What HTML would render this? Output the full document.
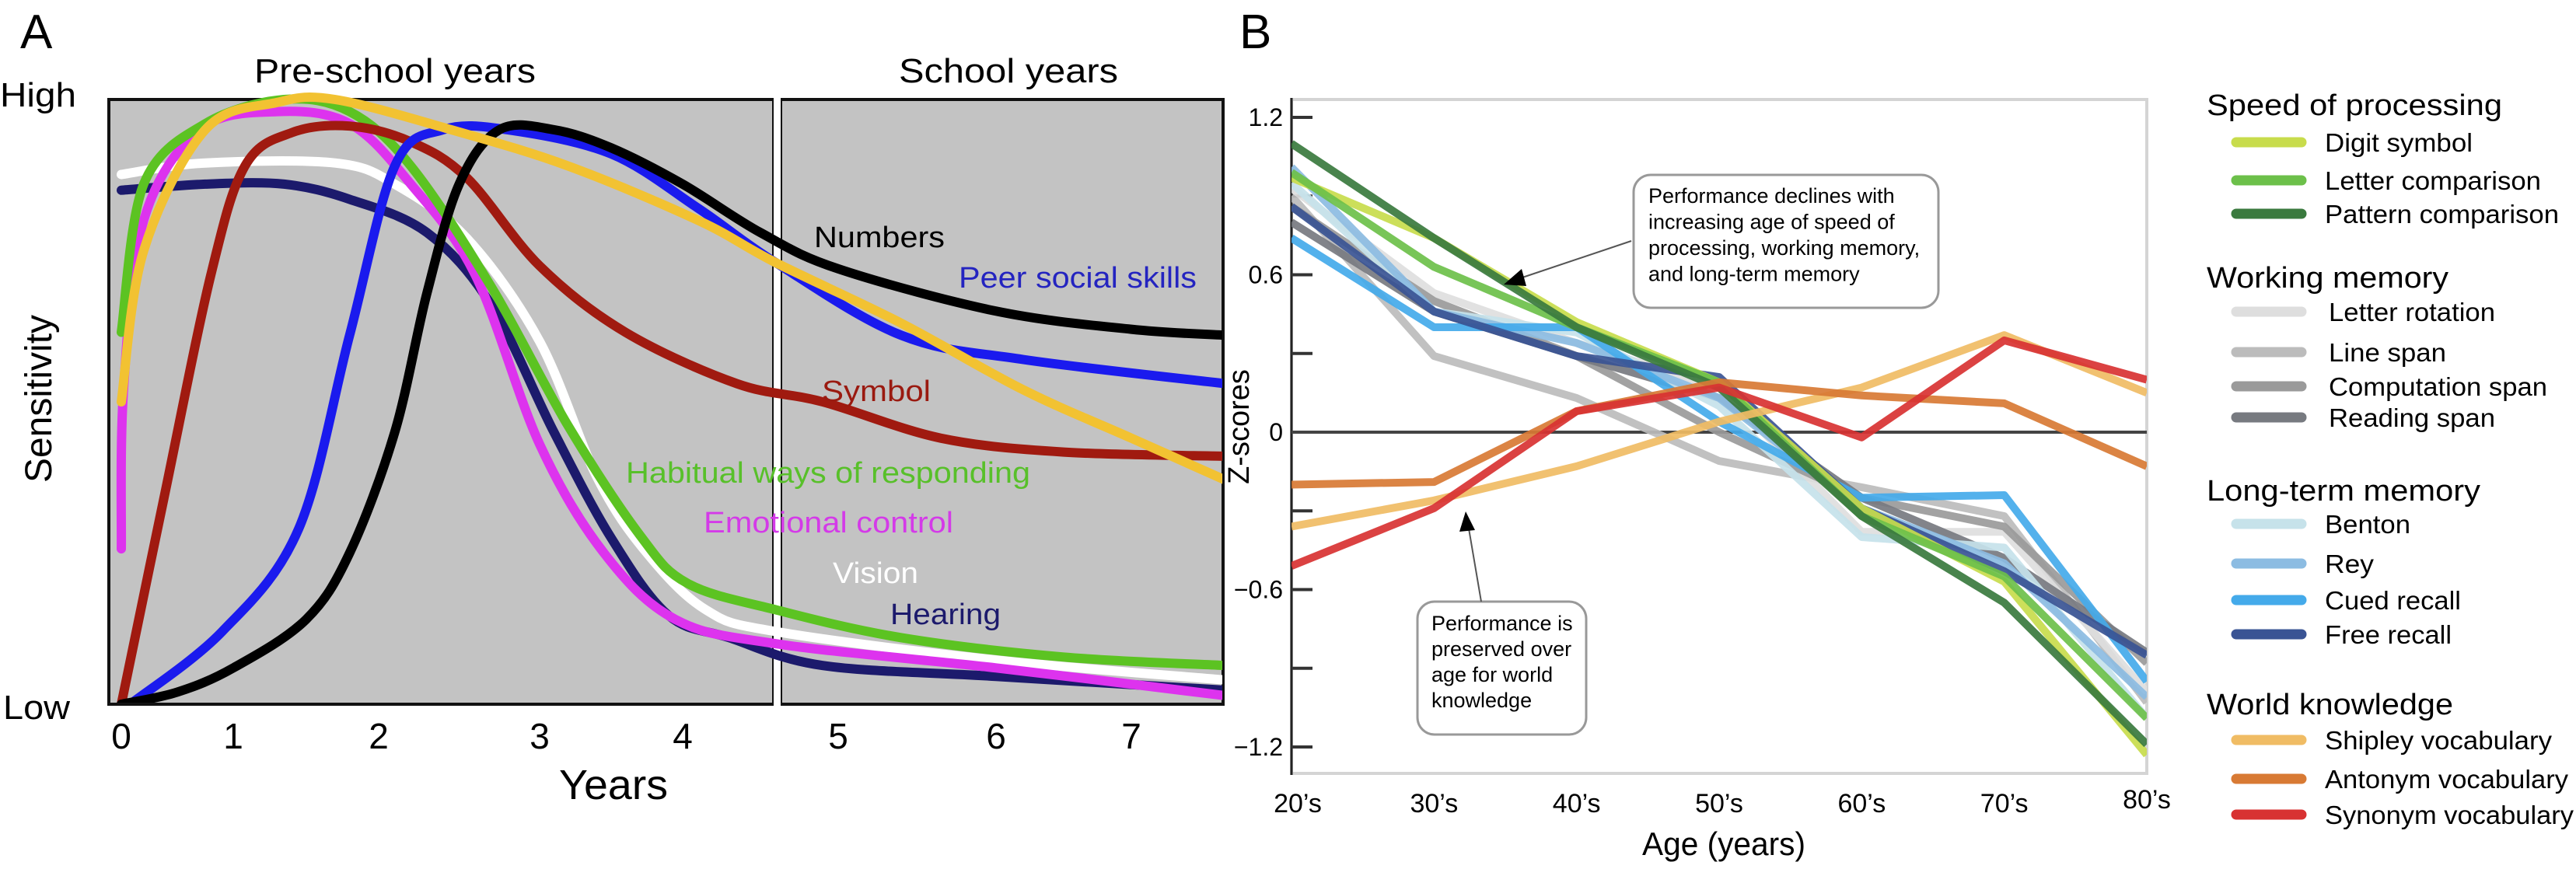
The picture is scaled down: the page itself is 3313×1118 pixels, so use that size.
<!DOCTYPE html>
<html><head><meta charset="utf-8"><style>
html,body{margin:0;padding:0;background:#fff;}
svg{display:block;font-family:"Liberation Sans",sans-serif;}
</style></head><body>
<svg id="fig" width="3313" height="1118" viewBox="0 0 3313 1118" xmlns="http://www.w3.org/2000/svg">
<g id="pa"></g>
<g id="pb"></g>
</svg>
<script>
// ---------- Panel A data ----------
const aYearTicks = [0,1,2,3,4,5,6,7];
const aNames = ["hearing","vision","emotional-control","habitual-ways","symbol","peer-social-skills","numbers","yellow-curve"];
const aColors = ["#1c1a6c","#ffffff","#dd33ee","#5cc322","#a01a10","#1a1aee","#000000","#f2c232"];
const aHearing = [[0,0.85],[0.75,0.86],[1.35,0.86],[1.8,0.835],[2.3,0.78],[2.7,0.66],[3.1,0.45],[3.5,0.275],[3.9,0.147],[4.3,0.11],[4.9,0.064],[6,0.046],[7.7,0.023]];
const aVision = [[0,0.876],[0.75,0.895],[1.7,0.895],[2.1,0.86],[2.55,0.77],[3,0.6],[3.4,0.376],[3.75,0.25],[4.15,0.156],[4.6,0.12],[6,0.073],[7.7,0.04]];
const aEmotional = [[0,0.257],[0.02,0.52],[0.2,0.8],[0.7,0.95],[1.3,0.98],[1.8,0.96],[2.2,0.86],[2.6,0.71],[3,0.43],[3.45,0.25],[3.95,0.14],[4.6,0.1],[6,0.06],[7.7,0.014]];
const aHabitual = [[0,0.615],[0.2,0.86],[0.75,0.96],[1.35,1.0],[1.8,0.98],[2.2,0.89],[2.7,0.69],[3.2,0.46],[3.7,0.28],[4.03,0.2],[4.6,0.156],[5.4,0.11],[6.5,0.078],[7.7,0.064]];
const aSymbol = [[0,0],[0.38,0.34],[0.8,0.71],[1.08,0.89],[1.4,0.945],[1.8,0.956],[2.2,0.93],[2.55,0.87],[3,0.725],[3.6,0.615],[4.35,0.53],[4.9,0.5],[5.65,0.44],[6.5,0.417],[7.7,0.41]];
const aPeer = [[0.08,0],[0.9,0.12],[1.45,0.29],[1.8,0.61],[2.1,0.89],[2.4,0.95],[2.8,0.95],[3.5,0.91],[4.1,0.82],[4.6,0.73],[5.4,0.61],[6.2,0.57],[7.7,0.53]];
const aNumbers = [[0,0],[0.5,0.02],[1,0.06],[1.5,0.14],[1.8,0.25],[2.1,0.45],[2.3,0.68],[2.5,0.86],[2.75,0.95],[3.1,0.95],[3.5,0.92],[4,0.86],[4.5,0.78],[5,0.72],[6,0.65],[7,0.62],[7.7,0.61]];
const aYellow = [[0,0.5],[0.2,0.75],[0.75,0.95],[1.3,0.995],[1.7,1.0],[2.45,0.95],[3.2,0.89],[4.1,0.8],[4.6,0.73],[5.4,0.63],[6.2,0.52],[7,0.44],[7.7,0.37]];
const aSeries = [aHearing,aVision,aEmotional,aHabitual,aSymbol,aPeer,aNumbers,aYellow];

// ---------- Panel B data ----------
const bCategories = ["20\u2019s","30\u2019s","40\u2019s","50\u2019s","60\u2019s","70\u2019s","80\u2019s"];
const bYTicks = [1.2,0.6,0,-0.6,-1.2];
const bDigitSymbol = [0.97,0.74,0.42,0.19,-0.29,-0.57,-1.23];
const bLetterComparison = [0.99,0.63,0.40,0.19,-0.32,-0.55,-1.09];
const bPatternComparison = [1.10,0.74,0.40,0.17,-0.32,-0.65,-1.19];
const bLetterRotation = [0.93,0.53,0.34,0.17,-0.38,-0.38,-0.99];
const bLineSpan = [0.90,0.29,0.13,-0.11,-0.21,-0.32,-1.03];
const bComputationSpan = [0.86,0.50,0.29,0.00,-0.25,-0.36,-0.88];
const bReadingSpan = [0.80,0.46,0.29,0.13,-0.25,-0.48,-0.84];
const bBenton = [0.95,0.46,0.38,0.10,-0.40,-0.44,-1.09];
const bRey = [1.01,0.46,0.34,0.13,-0.29,-0.50,-1.01];
const bCuedRecall = [0.74,0.40,0.40,0.04,-0.25,-0.24,-0.95];
const bFreeRecall = [0.86,0.46,0.29,0.21,-0.29,-0.53,-0.85];
const bShipley = [-0.36,-0.26,-0.13,0.04,0.17,0.37,0.15];
const bAntonym = [-0.20,-0.19,0.08,0.19,0.14,0.11,-0.13];
const bSynonym = [-0.51,-0.29,0.08,0.17,-0.02,0.35,0.20];

const NS="http://www.w3.org/2000/svg";
function mk(parent,tag,attrs,text){const e=document.createElementNS(NS,tag);for(const k in attrs)e.setAttribute(k,attrs[k]);if(text!==undefined)e.textContent=text;parent.appendChild(e);return e;}

// ===== Panel A =====
const pa=document.getElementById('pa');
const tickPx=[156,300,487,694,878,1078,1281,1455];
function ax(yr){ // piecewise axis over year ticks
  const t=aYearTicks;
  if(yr<=t[0]) return tickPx[0]+(yr-t[0])*(tickPx[1]-tickPx[0]);
  for(let i=0;i<t.length-1;i++){ if(yr<=t[i+1]) return tickPx[i]+(yr-t[i])/(t[i+1]-t[i])*(tickPx[i+1]-tickPx[i]); }
  const n=t.length-1; return tickPx[n]+(yr-t[n])*(tickPx[n]-tickPx[n-1]);
}
function ay(v){return 906-v*(906-128);}
let e;
e=mk(pa,'rect',{x:140,y:128,width:855,height:778,fill:'#c3c3c3',stroke:'#111','stroke-width':4});

e=mk(pa,'rect',{x:1004,y:128,width:569,height:778,fill:'#c3c3c3',stroke:'#111','stroke-width':4});

e=mk(pa,'rect',{x:995,y:126,width:9,height:782,fill:'#fff'});

const clipA=mk(pa,'clipPath',{id:'clipA'});mk(clipA,'rect',{x:142,y:110,width:1430,height:794});
function smooth(pts){
  let d='M'+pts[0][0].toFixed(1)+','+pts[0][1].toFixed(1);
  for(let i=0;i<pts.length-1;i++){
    const p0=pts[Math.max(0,i-1)],p1=pts[i],p2=pts[i+1],p3=pts[Math.min(pts.length-1,i+2)];
    const c1=[p1[0]+(p2[0]-p0[0])/6,p1[1]+(p2[1]-p0[1])/6];
    const c2=[p2[0]-(p3[0]-p1[0])/6,p2[1]-(p3[1]-p1[1])/6];
    d+=' C'+c1[0].toFixed(1)+','+c1[1].toFixed(1)+' '+c2[0].toFixed(1)+','+c2[1].toFixed(1)+' '+p2[0].toFixed(1)+','+p2[1].toFixed(1);
  }
  return d;
}
const gA=mk(pa,'g',{'clip-path':'url(#clipA)'});
aSeries.forEach((s,i)=>{
  const pts=s.map(p=>[ax(p[0]),ay(p[1])]);
  const p=mk(gA,'path',{d:smooth(pts),fill:'none',stroke:aColors[i],'stroke-width':12,'stroke-linecap':'round','stroke-linejoin':'round'});
  
  
});
aYearTicks.forEach(t=>{
  const tx=mk(pa,'text',{x:ax(t),y:963,'font-size':46,'text-anchor':'middle',fill:'#000'},String(t));
  
});
function T(parent,x,y,size,txt,name,opts){const o=Object.assign({x:x,y:y,'font-size':size,fill:'#000'},opts||{});const t=mk(parent,'text',o,txt);return t;}
T(pa,789,1028,54,'Years','x-axis-title',{'text-anchor':'middle',textLength:140,lengthAdjust:'spacingAndGlyphs'});
T(pa,508,106,44,'Pre-school years','preschool-title',{'text-anchor':'middle',textLength:362,lengthAdjust:'spacingAndGlyphs'});
T(pa,1297,106,44,'School years','school-title',{'text-anchor':'middle',textLength:282,lengthAdjust:'spacingAndGlyphs'});
T(pa,0,137,44,'High','y-high-label',{textLength:98,lengthAdjust:'spacingAndGlyphs'});
T(pa,4,925,44,'Low','y-low-label',{textLength:86,lengthAdjust:'spacingAndGlyphs'});
T(pa,66,513,48,'Sensitivity','y-axis-title',{'text-anchor':'middle',transform:'rotate(-90 66 513)'});
T(pa,26,62,62,'A','panel-a-label');
T(pa,1047,318,38,'Numbers','label-numbers',{textLength:168,lengthAdjust:'spacingAndGlyphs'});
T(pa,1233,370,38,'Peer social skills','label-peer-social-skills',{fill:'#2424c0',textLength:306,lengthAdjust:'spacingAndGlyphs'});
T(pa,1057,516,38,'Symbol','label-symbol',{fill:'#9a1a10',textLength:140,lengthAdjust:'spacingAndGlyphs'});
T(pa,805,621,38,'Habitual ways of responding','label-habitual',{fill:'#58c02a',textLength:520,lengthAdjust:'spacingAndGlyphs'});
T(pa,905,685,38,'Emotional control','label-emotional-control',{fill:'#d43ae8',textLength:321,lengthAdjust:'spacingAndGlyphs'});
T(pa,1071,750,38,'Vision','label-vision',{fill:'#fff',textLength:110,lengthAdjust:'spacingAndGlyphs'});
T(pa,1145,803,38,'Hearing','label-hearing',{fill:'#1c1a6c',textLength:142,lengthAdjust:'spacingAndGlyphs'});

// ===== Panel B =====
const pb=document.getElementById('pb');
const bx0=1661,bx1=2761;
function bx(i){return bx0+i*(bx1-bx0)/(bCategories.length-1);}
function by(v){return 556-v*337.5;}
e=mk(pb,'rect',{x:1661,y:128,width:1100,height:867,fill:'#fff',stroke:'#d4d4d4','stroke-width':4});

e=mk(pb,'line',{x1:1661,y1:126,x2:1661,y2:997,stroke:'#222','stroke-width':3});

for(let v=1.2;v>=-1.21;v-=0.3){
  const t=mk(pb,'line',{x1:1661,y1:by(v),x2:1688,y2:by(v),stroke:'#333','stroke-width':4});
  
}
bYTicks.forEach(v=>{
  const s=v<0?'\u2212'+Math.abs(v).toFixed(1):(v===0?'0':v.toFixed(1));
  const t=T(pb,1650,by(v)+11,32,s,'y-tick-label',{'text-anchor':'end'});
});
e=mk(pb,'line',{x1:1661,y1:by(0),x2:2761,y2:by(0),stroke:'#444','stroke-width':4});

const bSeries=[bLineSpan,bLetterRotation,bComputationSpan,bReadingSpan,bBenton,bRey,bCuedRecall,bFreeRecall,bDigitSymbol,bLetterComparison,bPatternComparison,bShipley,bAntonym,bSynonym];
const bNames=['line-span','letter-rotation','computation-span','reading-span','benton','rey','cued-recall','free-recall','digit-symbol','letter-comparison','pattern-comparison','shipley-vocabulary','antonym-vocabulary','synonym-vocabulary'];
const bColors=['#bcbcbc','#dedede','#9a9a9a','#777a80','#c6e2ea','#8cbce2','#44aaea','#3a5494','#c8dc4c','#6cc04a','#3a7a3e','#f0bc64','#d87a34','#d83232'];
const clipB=mk(pb,'clipPath',{id:'clipB'});mk(clipB,'rect',{x:1661,y:128,width:1100,height:867});
const gB=mk(pb,'g',{'clip-path':'url(#clipB)'});
bSeries.forEach((s,i)=>{
  const pts=s.map((v,j)=>bx(j).toFixed(1)+','+by(v).toFixed(1)).join(' ');
  const p=mk(gB,'polyline',{points:pts,fill:'none',stroke:bColors[i],'stroke-width':10,'stroke-linejoin':'round','stroke-opacity':0.92});
  
  
});
bCategories.forEach((c,i)=>{
  T(pb,bx(i)+(i==0?8:0),i==6?1040:1045,34,c,'x-tick-label',{'text-anchor':'middle'});
});
T(pb,2217,1100,42,'Age (years)','x-axis-title',{'text-anchor':'middle',textLength:210,lengthAdjust:'spacingAndGlyphs'});
T(pb,1606,549,38,'Z-scores','y-axis-title',{'text-anchor':'middle',transform:'rotate(-90 1606 549)'});
T(pb,1594,62,62,'B','panel-b-label');
// annotations
e=mk(pb,'rect',{x:2101,y:225,width:392,height:171,rx:22,fill:'#fff',stroke:'#999','stroke-width':3});

['Performance declines with','increasing age of speed of','processing, working memory,','and long-term memory'].forEach((l,i)=>{
  T(pb,2120,261+i*33.5,27,l,'annotation-decline-text');
});
e=mk(pb,'line',{x1:2098,y1:310,x2:1955,y2:358,stroke:'#555','stroke-width':2});

e=mk(pb,'polygon',{points:'1934,366 1957,346 1963,368',fill:'#000'});

e=mk(pb,'rect',{x:1823,y:774,width:217,height:171,rx:22,fill:'#fff',stroke:'#999','stroke-width':3});

['Performance is','preserved over','age for world','knowledge'].forEach((l,i)=>{
  T(pb,1841,811+i*33,27,l,'annotation-preserved-text');
});
e=mk(pb,'line',{x1:1905,y1:774,x2:1889,y2:680,stroke:'#555','stroke-width':2});

e=mk(pb,'polygon',{points:'1885,658 1877,684 1897,682',fill:'#000'});

// legend
const legHeads=[['Speed of processing',135,380],['Working memory',357,311],['Long-term memory',631,352],['World knowledge',906,317]];
legHeads.forEach(h=>{T(pb,2838,h[1]+13,38,h[0],'legend-heading',{textLength:h[2],lengthAdjust:'spacingAndGlyphs'});});
const legItems=[
 ['Digit symbol',183,190,'#c8dc4c'],['Letter comparison',232,278,'#6cc04a'],['Pattern comparison',275,301,'#3a7a3e'],
 ['Letter rotation',401,214,'#dedede'],['Line span',453,151,'#bcbcbc'],['Computation span',497,281,'#9a9a9a'],['Reading span',537,214,'#777a80'],
 ['Benton',674,110,'#c6e2ea'],['Rey',725,63,'#8cbce2'],['Cued recall',772,175,'#44aaea'],['Free recall',816,163,'#3a5494'],
 ['Shipley vocabulary',952,292,'#f0bc64'],['Antonym vocabulary',1002,313,'#d87a34'],['Synonym vocabulary',1048,320,'#d83232']];
legItems.forEach((it,i)=>{
  const g=mk(pb,'g',{});
  
  
  mk(g,'line',{x1:2876,y1:it[1],x2:2960,y2:it[1],stroke:it[3],'stroke-width':13,'stroke-linecap':'round'});
  const lx=(i>=3&&i<=6)?2995:2990;
  T(g,lx,it[1]+12,33,it[0],'legend-label',{textLength:it[2],lengthAdjust:'spacingAndGlyphs'});
});
</script>
</body></html>
